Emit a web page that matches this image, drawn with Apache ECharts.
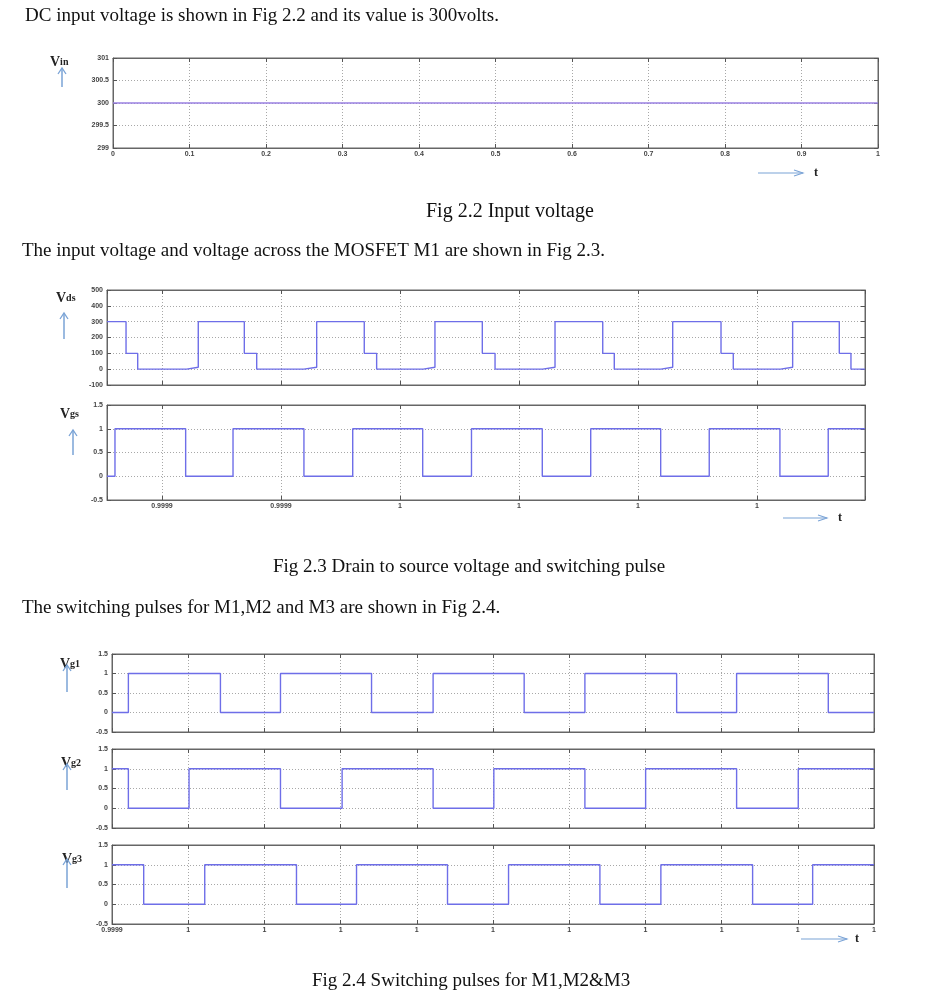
<!DOCTYPE html>
<html><head><meta charset="utf-8">
<script src="https://cdn.jsdelivr.net/npm/echarts@6/dist/echarts.min.js"></script>
<style>html,body{margin:0;padding:0;background:#fff}#c{width:930px;height:1007px}</style>
</head><body><div id="c"></div>
<script>
// ---------- data ----------
// Fig 2.2 input voltage
const vinT = [0, 1];
const vinV = [300, 300];
// Fig 2.3 drain-source voltage (step levels starting at each time, grid units)
const vdsT = [0.538, 0.698, 0.796, 1.208, 1.305, 1.692, 1.796, 2.193, 2.300, 2.700, 2.804, 3.196, 3.294, 3.692, 3.799, 4.199, 4.303, 4.704, 4.801, 5.194, 5.292, 5.698, 5.801, 6.199, 6.300, 6.692, 6.790, 6.908];
const vdsV = [300, 100, 0, 12, 300, 100, 0, 12, 300, 100, 0, 12, 300, 100, 0, 12, 300, 100, 0, 12, 300, 100, 0, 12, 300, 100, 0, 0];
// Fig 2.3 gate pulse
const vgsT = [0.538, 0.605, 1.199, 1.597, 2.193, 2.603, 3.191, 3.601, 4.196, 4.603, 5.191, 5.599, 6.193, 6.599, 6.908];
const vgsV = [0, 1, 0, 1, 0, 1, 0, 1, 0, 1, 0, 1, 0, 1, 1];
const vgsTickLabels = ['0.9999', '0.9999', '1', '1', '1', '1'];
// Fig 2.4 switching pulses
const vg1T = [0, 0.215, 1.423, 2.211, 3.406, 4.214, 5.409, 6.206, 7.410, 8.197, 9.400, 10];
const vg1V = [0, 1, 0, 1, 0, 1, 0, 1, 0, 1, 0, 0];
const vg2T = [0, 0.215, 1.011, 2.211, 3.020, 4.214, 5.011, 6.206, 7.003, 8.197, 9.006, 10];
const vg2V = [1, 0, 1, 0, 1, 0, 1, 0, 1, 0, 1, 1];
const vg3T = [0, 0.416, 1.217, 2.421, 3.209, 4.403, 5.204, 6.403, 7.203, 8.407, 9.195, 10];
const vg3V = [1, 0, 1, 0, 1, 0, 1, 0, 1, 0, 1, 1];
const fig24TickLabels = ['0.9999', '1', '1', '1', '1', '1', '1', '1', '1', '1', '1'];
const fig22XTickLabels = ['0', '0.1', '0.2', '0.3', '0.4', '0.5', '0.6', '0.7', '0.8', '0.9', '1'];

// ---------- build ----------
const grids = [], xAxes = [], yAxes = [], series = [];
const LINE = '#6e6ee8';
const GRIDC = '#a8a8a8';
const AXC = '#666';
const lblStyle = { fontSize: 7, color: '#444', fontFamily: 'Liberation Sans', fontWeight: 'bold' };

function zip(t, v) { return t.map((x, i) => [x, v[i]]); }

function addPlot(c) {
  grids.push({ left: c.left, top: c.top, width: c.width, height: c.height, show: true,
    borderColor: AXC, borderWidth: 1, backgroundColor: '#fff', containLabel: false, outerBoundsMode: 'none' });
  const gi = grids.length - 1;
  const xb = { gridIndex: gi, type: 'value', min: c.xmin, max: c.xmax,
    axisLine: { show: true, onZero: false, lineStyle: { color: AXC } },
    axisTick: { show: true, inside: true, length: 4, lineStyle: { color: '#555' } },
    axisLabel: { show: !!c.xfmt, margin: 3, formatter: c.xfmt, ...lblStyle, showMinLabel: true, showMaxLabel: true },
    splitLine: { show: true, lineStyle: { type: [1, 2], color: GRIDC } } };
  if (c.xint) xb.interval = c.xint;
  xAxes.push(xb);
  const xt = { gridIndex: gi, type: 'value', position: 'top', min: c.xmin, max: c.xmax,
    axisLine: { show: true, onZero: false, lineStyle: { color: AXC } },
    axisTick: { show: true, inside: true, length: 4, lineStyle: { color: '#555' } },
    axisLabel: { show: false }, splitLine: { show: false } };
  if (c.xint) xt.interval = c.xint;
  xAxes.push(xt);
  yAxes.push({ gridIndex: gi, type: 'value', min: c.ymin, max: c.ymax, interval: c.yint,
    axisLine: { show: true, onZero: false, lineStyle: { color: AXC } },
    axisTick: { show: true, inside: true, length: 4, lineStyle: { color: '#555' } },
    axisLabel: { show: true, margin: 4, ...lblStyle },
    splitLine: { show: true, lineStyle: { type: [1, 2], color: GRIDC } } });
  yAxes.push({ gridIndex: gi, type: 'value', position: 'right', min: c.ymin, max: c.ymax, interval: c.yint,
    axisLine: { show: true, onZero: false, lineStyle: { color: AXC } },
    axisTick: { show: true, inside: true, length: 4, lineStyle: { color: '#555' } },
    axisLabel: { show: false }, splitLine: { show: false } });
  series.push({ type: 'line', xAxisIndex: xAxes.length - 2, yAxisIndex: yAxes.length - 2,
    step: c.step ? 'end' : false, symbol: 'none', silent: true,
    lineStyle: { color: c.color || LINE, width: 1.4 }, data: c.data });
}

function intLabel(labels, offset) {
  return function (v) {
    const r = Math.round(v);
    if (Math.abs(v - r) > 1e-6) return '';
    const s = labels[r - offset];
    return s === undefined ? '' : s;
  };
}

addPlot({ left: 113, top: 58, width: 765, height: 90, xmin: 0, xmax: 1, xint: 0.1, ymin: 299, ymax: 301, yint: 0.5,
  data: zip(vinT, vinV), color: '#9a80e2', xfmt: function (v) { return fig22XTickLabels[Math.round(v * 10)]; } });
addPlot({ left: 107, top: 290, width: 758, height: 95, xmin: 0.538, xmax: 6.908, ymin: -100, ymax: 500, yint: 100,
  data: zip(vdsT, vdsV), step: true, xfmt: null });
addPlot({ left: 107, top: 405, width: 758, height: 95, xmin: 0.538, xmax: 6.908, ymin: -0.5, ymax: 1.5, yint: 0.5,
  data: zip(vgsT, vgsV), step: true, xfmt: intLabel(vgsTickLabels, 1) });
addPlot({ left: 112, top: 654, width: 762, height: 78, xmin: 0, xmax: 10, xint: 1, ymin: -0.5, ymax: 1.5, yint: 0.5,
  data: zip(vg1T, vg1V), step: true, xfmt: null });
addPlot({ left: 112, top: 749, width: 762, height: 79, xmin: 0, xmax: 10, xint: 1, ymin: -0.5, ymax: 1.5, yint: 0.5,
  data: zip(vg2T, vg2V), step: true, xfmt: null });
addPlot({ left: 112, top: 845, width: 762, height: 79, xmin: 0, xmax: 10, xint: 1, ymin: -0.5, ymax: 1.5, yint: 0.5,
  data: zip(vg3T, vg3V), step: true, xfmt: intLabel(fig24TickLabels, 0) });

// ---------- text & decorations ----------
const SERIF = 'Liberation Serif';
const ARROWC = '#7aa3d6';
const g = [];
function txt(x, y, s, size) {
  g.push({ type: 'text', x: x, y: y, silent: true,
    style: { text: s, fontFamily: SERIF, fontSize: size || 19, fill: '#111', verticalAlign: 'middle', align: 'left' } });
}
function vlabel(x, y, main, sub) {
  g.push({ type: 'text', x: x, y: y, silent: true, z: 10,
    style: { text: '{a|' + main + '}{b|' + sub + '}', verticalAlign: 'middle', align: 'left',
      rich: { a: { fontFamily: SERIF, fontSize: 14, fontWeight: 'bold', fill: '#222' },
              b: { fontFamily: SERIF, fontSize: 10, fontWeight: 'bold', fill: '#222' } } } });
}
function upArrow(x, yHead, yTail) {
  g.push({ type: 'line', silent: true, z: 11, shape: { x1: x, y1: yTail, x2: x, y2: yHead }, style: { stroke: ARROWC, lineWidth: 1.5 } });
  g.push({ type: 'polyline', silent: true, z: 11, shape: { points: [[x - 4, yHead + 6], [x, yHead], [x + 4, yHead + 6]] }, style: { stroke: ARROWC, lineWidth: 1.3, fill: null } });
}
function tArrow(x1, x2, y, xt) {
  g.push({ type: 'line', silent: true, shape: { x1: x1, y1: y, x2: x2, y2: y }, style: { stroke: ARROWC, lineWidth: 1.2 } });
  g.push({ type: 'polyline', silent: true, shape: { points: [[x2 - 9, y - 3], [x2, y], [x2 - 9, y + 3]] }, style: { stroke: ARROWC, lineWidth: 1.1, fill: null } });
  g.push({ type: 'text', x: xt, y: y, silent: true, style: { text: 't', fontFamily: SERIF, fontSize: 12, fontWeight: 'bold', fill: '#222', verticalAlign: 'middle' } });
}

txt(25, 16, 'DC input voltage is shown in Fig 2.2 and its value is 300volts.');
txt(426, 212, 'Fig 2.2 Input voltage', 20);
txt(22, 251, 'The input voltage and voltage across the MOSFET M1 are shown in Fig 2.3.');
txt(273, 567, 'Fig 2.3 Drain to source voltage and switching pulse');
txt(22, 608, 'The switching pulses for M1,M2 and M3 are shown in Fig 2.4.');
txt(312, 981, 'Fig 2.4 Switching pulses for M1,M2&M3');

vlabel(50, 62, 'V', 'in');  upArrow(62, 68, 87);
vlabel(56, 298, 'V', 'ds'); upArrow(64, 313, 339);
vlabel(60, 414, 'V', 'gs'); upArrow(73, 430, 455);
vlabel(60, 664, 'V', 'g1'); upArrow(67, 665, 692);
vlabel(61, 763, 'V', 'g2'); upArrow(67, 764, 790);
vlabel(62, 859, 'V', 'g3'); upArrow(67, 859, 888);

tArrow(758, 803, 173, 814);
tArrow(783, 827, 518, 838);
tArrow(801, 847, 939, 855);

const chart = echarts.init(document.getElementById('c'), null, { renderer: 'canvas' });
chart.setOption({
  animation: false,
  backgroundColor: '#fff',
  grid: grids, xAxis: xAxes, yAxis: yAxes, series: series,
  graphic: { elements: g }
});
</script></body></html>
